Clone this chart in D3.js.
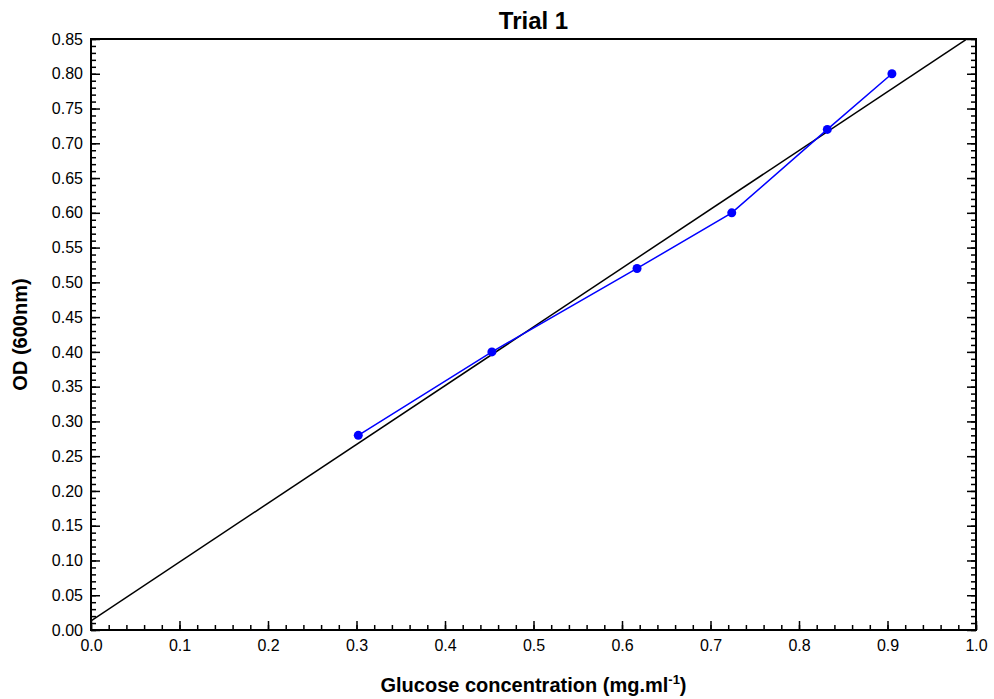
<!DOCTYPE html>
<html>
<head>
<meta charset="utf-8">
<script src="https://cdn.jsdelivr.net/npm/d3@7"></script>
<style>
  body { margin: 0; background: #fff; }
  svg { font-family: "Liberation Sans", Arial, sans-serif; }
</style>
</head>
<body>
<svg width="994" height="699"></svg>
<script>
const width = 994;
const height = 699;

// glucose concentration (mg/ml) vs OD 600nm
const glucose = [0.302, 0.453, 0.617, 0.724, 0.832, 0.905];
const od = [0.28, 0.40, 0.52, 0.60, 0.72, 0.80];

const xTicks = d3.range(0, 1.0001, 0.1);
const yTicks = d3.range(0, 0.8501, 0.05);

const margin = {top: 39, right: 18, bottom: 69, left: 91};

const svg = d3.select('svg');

const x = d3.scaleLinear().domain([0, 1]).range([margin.left, width - margin.right]);
const y = d3.scaleLinear().domain([0, 0.85]).range([height - margin.bottom, margin.top]);

// least squares fit line through the points
const mx = d3.mean(glucose), my = d3.mean(od);
const slope = d3.sum(glucose, (g, i) => (g - mx) * (od[i] - my)) / d3.sum(glucose, g => (g - mx) ** 2);
const intercept = my - slope * mx;

svg.append('clipPath').attr('id', 'clip')
  .append('rect')
  .attr('x', x(0)).attr('y', y(0.85))
  .attr('width', x(1) - x(0)).attr('height', y(0) - y(0.85));

// minor + major ticks, drawn inward
const xMinor = d3.range(0, 1.0001, 0.02);
const yMinor = d3.range(0, 0.8501, 0.01);

svg.append('g')
  .attr('transform', `translate(0,${y(0)})`)
  .call(d3.axisBottom(x).tickValues(xMinor).tickSize(-5).tickFormat(''))
  .call(g => g.select('.domain').remove());
svg.append('g')
  .attr('transform', `translate(0,${y(0)})`)
  .call(d3.axisBottom(x).tickValues(xTicks).tickSize(-9).tickPadding(10).tickFormat(d3.format('.1f')))
  .call(g => g.select('.domain').remove())
  .call(g => g.selectAll('text').attr('font-size', 16).attr('fill', '#000'));

svg.append('g')
  .attr('transform', `translate(${x(0)},0)`)
  .call(d3.axisLeft(y).tickValues(yMinor).tickSize(-5).tickFormat(''))
  .call(g => g.select('.domain').remove());
svg.append('g')
  .attr('transform', `translate(${x(0)},0)`)
  .call(d3.axisLeft(y).tickValues(yTicks).tickSize(-9).tickPadding(8).tickFormat(d3.format('.2f')))
  .call(g => g.select('.domain').remove())
  .call(g => g.selectAll('text').attr('font-size', 16).attr('fill', '#000'));

// mirrored ticks on the right
svg.append('g')
  .attr('transform', `translate(${x(1)},0)`)
  .call(d3.axisRight(y).tickValues(yMinor).tickSize(-5).tickFormat(''))
  .call(g => g.select('.domain').remove());
svg.append('g')
  .attr('transform', `translate(${x(1)},0)`)
  .call(d3.axisRight(y).tickValues(yTicks).tickSize(-9).tickFormat(''))
  .call(g => g.select('.domain').remove());

svg.selectAll('.tick line').attr('stroke', '#000').attr('stroke-width', 1.5);

// frame
svg.append('rect')
  .attr('x', x(0)).attr('y', y(0.85))
  .attr('width', x(1) - x(0)).attr('height', y(0) - y(0.85))
  .attr('fill', 'none').attr('stroke', '#000').attr('stroke-width', 2);

// fit line
svg.append('line')
  .attr('clip-path', 'url(#clip)')
  .attr('x1', x(0)).attr('y1', y(intercept))
  .attr('x2', x(1)).attr('y2', y(intercept + slope))
  .attr('stroke', '#000').attr('stroke-width', 1.5);

// data line + points
const pts = glucose.map((g, i) => [g, od[i]]);
svg.append('path')
  .datum(pts)
  .attr('d', d3.line().x(d => x(d[0])).y(d => y(d[1])))
  .attr('fill', 'none').attr('stroke', '#0000ff').attr('stroke-width', 1.5);

svg.append('g').selectAll('circle')
  .data(pts)
  .join('circle')
  .attr('cx', d => x(d[0])).attr('cy', d => y(d[1]))
  .attr('r', 4.5).attr('fill', '#0000ff');

// labels
svg.append('text')
  .attr('x', (x(0) + x(1)) / 2).attr('y', 29)
  .attr('text-anchor', 'middle').attr('font-size', 24).attr('font-weight', 'bold')
  .text('Trial 1');

const xl = svg.append('text')
  .attr('x', (x(0) + x(1)) / 2).attr('y', 692)
  .attr('text-anchor', 'middle').attr('font-size', 20).attr('font-weight', 'bold');
xl.append('tspan').text('Glucose concentration (mg.ml');
xl.append('tspan').attr('font-size', 13).attr('dy', -8).text('-1');
xl.append('tspan').attr('dy', 8).text(')');

svg.append('text')
  .attr('transform', `translate(27,${(y(0) + y(0.85)) / 2}) rotate(-90)`)
  .attr('text-anchor', 'middle').attr('font-size', 20).attr('font-weight', 'bold')
  .text('OD (600nm)');
</script>
</body>
</html>
